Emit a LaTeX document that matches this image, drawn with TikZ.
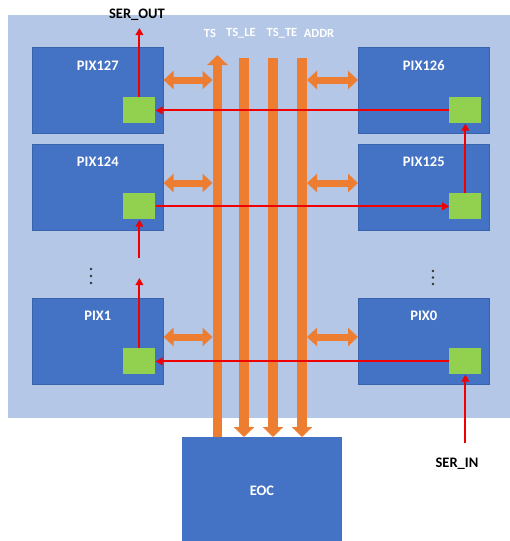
\documentclass[tikz,border=0pt]{standalone}
\usepackage{fontspec}
\setmainfont{Carlito}
\usetikzlibrary{arrows.meta,calc}
\definecolor{bgblue}{HTML}{B4C7E7}
\definecolor{boxblue}{HTML}{4472C4}
\definecolor{boxedge}{HTML}{3A63AE}
\definecolor{busorange}{HTML}{ED7D31}
\definecolor{cellgreen}{HTML}{92D050}
\definecolor{sigred}{HTML}{F00000}
\tikzset{
  pixbox/.style={draw=boxedge, line width=0.6pt, fill=boxblue, minimum width=131pt, minimum height=86pt, anchor=north west, inner sep=0pt},
  pixtext/.style={text=white, font=\bfseries\fontsize{14.5}{16}\selectfont, inner sep=0pt},
  cell/.style={fill=cellgreen, minimum width=32pt, minimum height=26pt, anchor=south east, inner sep=0pt},
  sig/.style={draw=sigred, line width=1.9pt, -{Triangle[length=7pt,width=7.5pt]}},
  bus/.style={draw=busorange, line width=9.5pt, -{Triangle[length=10pt,width=20pt]}},
  dbl/.style={draw=busorange, line width=7pt, {Triangle[length=10pt,width=18pt]}-{Triangle[length=10pt,width=18pt]}},
  buslabel/.style={text=white, font=\bfseries\fontsize{12.5}{14}\selectfont, inner sep=0pt},
  extlabel/.style={text=black, font=\bfseries\fontsize{14.5}{16}\selectfont, inner sep=0pt},
  dotmark/.style={fill=black!80, circle, inner sep=0pt, minimum size=2.8pt}
}
\begin{document}
\begin{tikzpicture}[x=1pt,y=-1pt]
\useasboundingbox (0,0) rectangle (510,541);
% background panel
\fill[bgblue] (8,15) rectangle (510,418);

% pixel boxes
\node[pixbox] (p127) at (32,47) {};
\node[pixbox] (p126) at (358,47) {};
\node[pixbox] (p124) at (32,144) {};
\node[pixbox] (p125) at (358,144) {};
\node[pixbox] (p1) at (32,298) {};
\node[pixbox] (p0) at (358,298) {};

\node[pixtext] (t127) at ([yshift=-19pt]p127.north) {PIX127};
\node[pixtext] (t126) at ([yshift=-19pt]p126.north) {PIX126};
\node[pixtext] (t124) at ([yshift=-18pt]p124.north) {PIX124};
\node[pixtext] (t125) at ([yshift=-18pt]p125.north) {PIX125};
\node[pixtext] (t1) at ([yshift=-18pt]p1.north) {PIX1};
\node[pixtext] (t0) at ([yshift=-18pt]p0.north) {PIX0};

% green cells
\node[cell] (g127) at ([xshift=-8pt,yshift=10pt]p127.south east) {};
\node[cell] (g126) at ([xshift=-8pt,yshift=10pt]p126.south east) {};
\node[cell] (g124) at ([xshift=-8pt,yshift=11pt]p124.south east) {};
\node[cell] (g125) at ([xshift=-8pt,yshift=11pt]p125.south east) {};
\node[cell] (g1) at ([xshift=-8pt,yshift=10pt]p1.south east) {};
\node[cell] (g0) at ([xshift=-8pt,yshift=10pt]p0.south east) {};

% EOC
\node[fill=boxblue, minimum width=160pt, minimum height=110pt, anchor=north west, inner sep=0pt] (eoc) at (182,437) {};
\node[pixtext] (teoc) at (262,491) {EOC};

% bus bars
\coordinate (tsTop) at (217.5,55);
\coordinate (leTop) at (244,58);
\coordinate (teTop) at (273,58);
\coordinate (adTop) at (302,58);
\draw[bus] (tsTop |- eoc.north) -- (tsTop);
\draw[bus] (leTop) -- (leTop |- eoc.north);
\draw[bus] (teTop) -- (teTop |- eoc.north);
\draw[bus] (adTop) -- (adTop |- eoc.north);

\node[buslabel] (lts) at (210,33) {TS};
\node[buslabel] (lle) at (241,33) {TS\_LE};
\node[buslabel] (lte) at (282,33) {TS\_TE};
\node[buslabel] (lad) at (319,33) {ADDR};

% bus connections
\coordinate (busL) at (212.5,0);
\coordinate (busR) at (307,0);
\draw[dbl] (p127.east |- 0,80) -- (busL |- 0,80);
\draw[dbl] (busR |- 0,80) -- (p126.west |- 0,80);
\draw[dbl] (p124.east |- 0,183) -- (busL |- 0,183);
\draw[dbl] (busR |- 0,183) -- (p125.west |- 0,183);
\draw[dbl] (p1.east |- 0,337) -- (busL |- 0,337);
\draw[dbl] (busR |- 0,337) -- (p0.west |- 0,337);

% serial chain
\coordinate (serout) at (g127.north |- 0,28);
\coordinate (serin) at (g0.south |- 0,443);
\coordinate (up1) at (g124.south |- 0,258);
\coordinate (up2) at (g1.north |- 0,278);
\draw[sig] (serin) -- (g0.south);
\draw[sig] (g0.west) -- (g1.east);
\draw[sig] (g1.north) -- (up2);
\draw[sig] (up1) -- (g124.south);
\draw[sig] (g124.east) -- (g125.west);
\draw[sig] (g125.north) -- (g126.south);
\draw[sig] (g126.west) -- (g127.east);
\draw[sig] (g127.north) -- (serout);

\node[extlabel] (lserout) at (137,15) {SER\_OUT};
\node[extlabel] (lserin) at (457,464) {SER\_IN};

% continuation dots
\node[dotmark] (dl1) at (91,269) {};
\node[dotmark] (dl2) at (91,276) {};
\node[dotmark] (dl3) at (91,283) {};
\node[dotmark] (dr1) at (433,271) {};
\node[dotmark] (dr2) at (433,277.5) {};
\node[dotmark] (dr3) at (433,284) {};
\end{tikzpicture}
\end{document}
